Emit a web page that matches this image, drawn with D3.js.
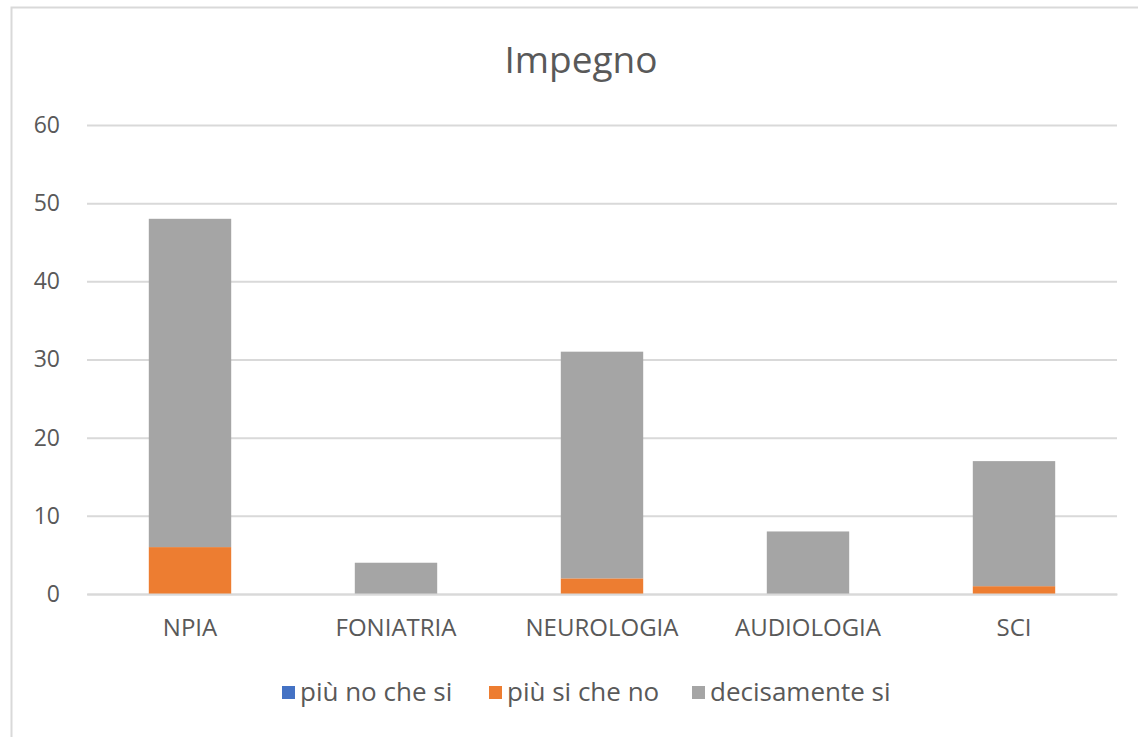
<!DOCTYPE html>
<html>
<head>
<meta charset="utf-8">
<script src="https://cdn.jsdelivr.net/npm/d3@7"></script>
<style>
  body { margin: 0; background: #fff; }
  svg, svg text { font-family: "Open Sans", "Liberation Sans", sans-serif; }
</style>
</head>
<body>
<div id="chart"></div>
<script>
var categories = ["NPIA", "FONIATRIA", "NEUROLOGIA", "AUDIOLOGIA", "SCI"];
var seriesNames = ["più no che si", "più si che no", "decisamente si"];
var piuNoCheSi = [0, 0, 0, 0, 0];
var piuSiCheNo = [6, 0, 2, 0, 1];
var decisamenteSi = [42, 4, 29, 8, 16];
var yTicks = [0, 10, 20, 30, 40, 50, 60];
var colors = ["#4472C4", "#ED7D31", "#A5A5A5"];

var W = 1138, H = 737;
var margin = { top: 125, right: 21, bottom: 143, left: 87 },
    width = W - margin.left - margin.right,
    height = H - margin.top - margin.bottom;

var svg = d3.select("#chart").append("svg")
    .attr("width", W)
    .attr("height", H);

// outer frame (left and top edges visible)
svg.append("path")
    .attr("d", "M11.5,737 L11.5,7.5 L1138,7.5")
    .attr("fill", "none")
    .attr("stroke", "#d9d9d9")
    .attr("stroke-width", 2);

svg.append("text")
    .attr("x", 581)
    .attr("y", 73)
    .attr("text-anchor", "middle")
    .attr("font-size", 37)
    .attr("fill", "#595959")
    .text("Impegno");

var g = svg.append("g")
    .attr("transform", "translate(" + margin.left + "," + margin.top + ")");

var x = d3.scaleBand().domain(categories).range([0, width]).paddingInner(0.6).paddingOuter(0.3);
var y = d3.scaleLinear().domain([0, 60]).range([height, 0]);

// gridlines + y labels
g.append("g")
    .call(d3.axisLeft(y).tickValues(yTicks).tickSize(-width).tickPadding(27))
    .call(function(a) {
        a.attr("font-family", null).attr("font-size", null);
        a.select(".domain").remove();
        a.selectAll("line").attr("stroke", "#d9d9d9").attr("stroke-width", 2);
        a.selectAll("text").attr("fill", "#595959").attr("font-size", 23);
    });

var table = categories.map(function(c, i) {
    return { cat: c, "più no che si": piuNoCheSi[i], "più si che no": piuSiCheNo[i], "decisamente si": decisamenteSi[i] };
});
var stacked = d3.stack().keys(seriesNames)(table);

g.selectAll(".series")
    .data(stacked)
    .enter().append("g")
    .attr("class", "series")
    .attr("fill", function(d, i) { return colors[i]; })
    .selectAll("rect")
    .data(function(d) { return d; })
    .enter().append("rect")
    .attr("x", function(d) { return x(d.data.cat); })
    .attr("y", function(d) { return y(d[1]); })
    .attr("width", x.bandwidth())
    .attr("height", function(d) { return y(d[0]) - y(d[1]); });

// x axis
g.append("g")
    .attr("transform", "translate(0," + height + ")")
    .call(d3.axisBottom(x).tickSize(0).tickPadding(25))
    .call(function(a) {
        a.attr("font-family", null).attr("font-size", null);
        a.select(".domain").attr("stroke", "#d9d9d9").attr("stroke-width", 2);
        a.selectAll("text").attr("fill", "#595959").attr("font-size", 24);
    });

// legend
var legendX = [282, 489, 692];
var legend = svg.append("g");
seriesNames.forEach(function(name, i) {
    legend.append("rect")
        .attr("x", legendX[i])
        .attr("y", 686)
        .attr("width", 13)
        .attr("height", 13)
        .attr("fill", colors[i]);
    legend.append("text")
        .attr("x", legendX[i] + 18)
        .attr("y", 701)
        .attr("font-size", 26)
        .attr("fill", "#595959")
        .text(name);
});
</script>
</body>
</html>
